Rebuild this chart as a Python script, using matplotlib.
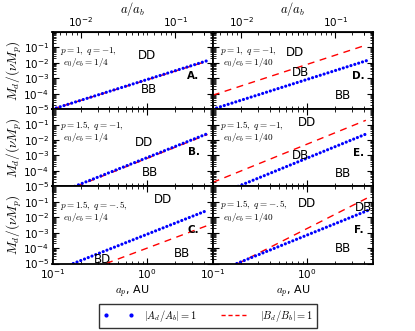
import matplotlib
matplotlib.use("Agg")
import matplotlib.pyplot as plt
from matplotlib.lines import Line2D
from matplotlib.ticker import LogLocator, NullFormatter, FixedLocator

# ---- data ----
panel_tags = ["A.", "B.", "C.", "D.", "E.", "F."]
p_vals = ["1", "1.5", "1.5", "1", "1.5", "1.5"]
q_vals = ["-1", "-1", "-.5", "-1", "-1", "-.5"]
e_ratio = ["1/4", "1/4", "1/4", "1/40", "1/40", "1/40"]

# |A_d/A_b| = 1 curves (blue dots)
a_curve_x = [[0.1, 4.4], [0.172, 4.4], [0.166, 4.4],
             [0.1, 4.45], [0.186, 4.45], [0.18, 4.45]]
a_curve_y = [[1e-5, 1.4e-2], [1e-5, 2.6e-2], [1e-5, 2.8e-2],
             [1e-5, 1.5e-2], [1e-5, 2.8e-2], [1e-5, 2.8e-2]]
# |B_d/B_b| = 1 curves (red dashed)
b_curve_x = [[0.1, 4.4], [0.18, 4.4], [0.37, 4.4],
             [0.1, 4.2], [0.1, 4.2], [0.186, 4.3]]
b_curve_y = [[1e-5, 1.3e-2], [1e-5, 2.3e-2], [1e-5, 2.9e-3],
             [8e-5, 1.4e-1], [1.8e-5, 1.9e-1], [1e-5, 1.7e-1]]

# region labels: (text, x frac, y frac)
region_labels = [
    [("DD", 0.59, 0.70), ("BB", 0.60, 0.25)],
    [("DD", 0.57, 0.57), ("BB", 0.61, 0.18)],
    [("DD", 0.69, 0.83), ("BB", 0.81, 0.13), ("BD", 0.31, 0.05)],
    [("DD", 0.515, 0.74), ("DB", 0.55, 0.47), ("BB", 0.81, 0.18)],
    [("DD", 0.59, 0.83), ("DB", 0.55, 0.40), ("BB", 0.81, 0.17)],
    [("DD", 0.59, 0.78), ("DB", 0.94, 0.73), ("BB", 0.81, 0.19)],
]
tag_pos = [(0.88, 0.43), (0.88, 0.44), (0.88, 0.43),
           (0.91, 0.43), (0.91, 0.43), (0.91, 0.43)]
param_y = [(0.76, 0.60), (0.79, 0.63), (0.75, 0.59),
           (0.76, 0.60), (0.79, 0.63), (0.76, 0.60)]

a_b = 20.0
xlim = (0.1, 5.0)
ylim = (1e-5, 1.0)
ytick_vals = [1e-5, 1e-4, 1e-3, 1e-2, 1e-1]

fig = plt.figure(figsize=(4.15, 3.31), dpi=100)
gs = fig.add_gridspec(3, 2, left=52.5/415, right=373/415,
                      top=1-32/331, bottom=1-263.5/331,
                      hspace=0, wspace=0)

tick_kw = dict(direction="in", which="both", top=True, bottom=True,
               left=True, right=True, labelsize=7.5, pad=2.5)

for col in range(2):
    for row in range(3):
        i = col*3 + row
        ax = fig.add_subplot(gs[row, col])
        ax.set_xscale("log")
        ax.set_yscale("log")
        ax.set_xlim(*xlim)
        ax.set_ylim(*ylim)
        for s in ax.spines.values():
            s.set_linewidth(1.3)
        ax.plot(b_curve_x[i], b_curve_y[i], color="red", lw=1.0,
                dashes=(5, 4))
        ax.plot(a_curve_x[i], a_curve_y[i], color="blue", lw=2.3,
                linestyle=(0, (0.01, 1.25)), dash_capstyle="round")
        ax.yaxis.set_major_locator(FixedLocator(ytick_vals))
        ax.yaxis.set_minor_locator(LogLocator(base=10, subs=range(2, 10), numticks=20))
        ax.yaxis.set_minor_formatter(NullFormatter())
        ax.xaxis.set_minor_formatter(NullFormatter())
        ax.tick_params(**tick_kw)
        ax.tick_params(which="major", length=4, width=0.8)
        ax.tick_params(which="minor", length=2, width=0.6)
        if col == 1:
            ax.tick_params(labelleft=False)
        else:
            ax.set_ylabel(r"$M_d/(\nu M_p)$", fontsize=9.5,
                          math_fontfamily="cm")
            ax.yaxis.set_label_coords(-0.175, 0.5)
        if row < 2:
            ax.tick_params(labelbottom=False)
        else:
            ax.set_xlabel(r"$a_p$, AU", fontsize=8, labelpad=2)
            ax.xaxis.label.set_math_fontfamily("cm")
        if row == 0:
            ax.tick_params(top=False)
            sec = ax.secondary_xaxis("top", functions=(lambda a: a/a_b,
                                                        lambda r: r*a_b))
            sec.tick_params(direction="in", which="both", labelsize=7.5, pad=2)
            sec.tick_params(which="major", length=4, width=0.8)
            sec.tick_params(which="minor", length=2, width=0.6)
            sec.xaxis.set_minor_formatter(NullFormatter())
            sec.set_xlabel(r"$a/a_b$", fontsize=9, labelpad=2)
            sec.xaxis.label.set_math_fontfamily("cm")
        # annotations
        y1, y2 = param_y[i]
        ax.text(0.045, y1, r"$p=%s,\ q=%s,$" % (p_vals[i], q_vals[i]),
                transform=ax.transAxes, fontsize=6.6, math_fontfamily="cm",
                va="center", ha="left")
        ax.text(0.065, y2, r"$e_0/e_b=%s$" % e_ratio[i],
                transform=ax.transAxes, fontsize=6.6, math_fontfamily="cm",
                va="center", ha="left")
        for txt, fx, fy in region_labels[i]:
            ax.text(fx, fy, txt, transform=ax.transAxes, fontsize=8.5,
                    ha="center", va="center")
        tx, ty = tag_pos[i]
        ax.text(tx, ty, panel_tags[i], transform=ax.transAxes, fontsize=7.5,
                fontweight="bold", ha="center", va="center")

handles = [Line2D([], [], color="blue", marker=".", ls="none", markersize=4),
           Line2D([], [], color="red", lw=1.0, dashes=(3, 2))]
labels = [r"$|A_d/A_b|=1$", r"$|B_d/B_b|=1$"]
leg = fig.legend(handles, labels, loc="center", ncol=2,
                 bbox_to_anchor=(208/415, 1-316/331), numpoints=2,
                 fontsize=7.5, frameon=True, fancybox=False, edgecolor="black",
                 handlelength=3.0, handletextpad=1.0, columnspacing=2.0,
                 borderpad=0.35)
leg.get_frame().set_linewidth(1.0)
for t in leg.get_texts():
    t.set_math_fontfamily("cm")

fig.savefig("out.png", dpi=100)
